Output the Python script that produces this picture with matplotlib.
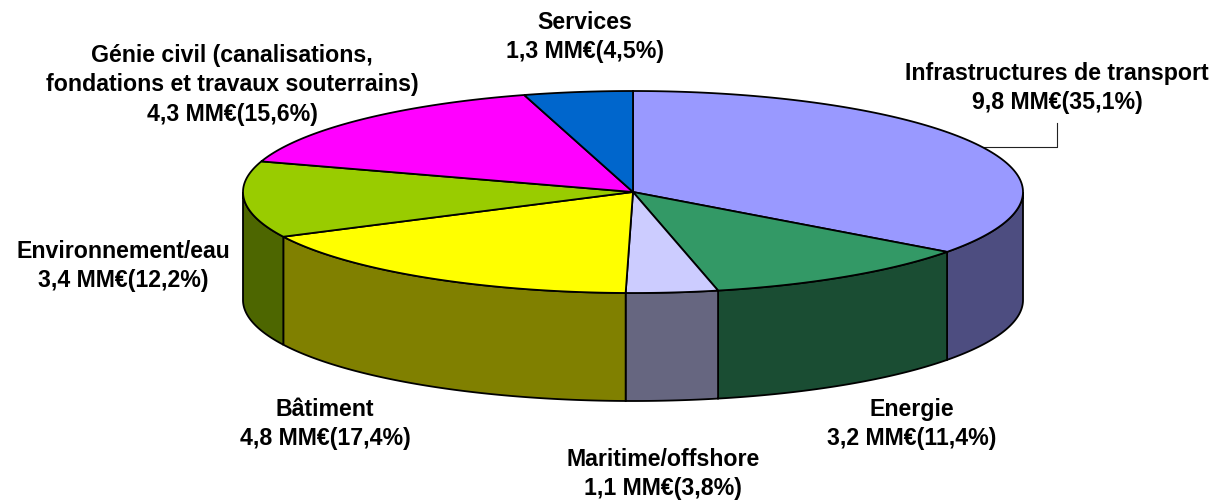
import numpy as np
import matplotlib
matplotlib.use("Agg")
import matplotlib.pyplot as plt
from matplotlib.patches import Polygon

plt.rcParams['font.family'] = ['Liberation Sans', 'DejaVu Sans']

# Slices, clockwise from 12 o'clock
categories = ["Infrastructures de transport", "Energie", "Maritime/offshore", "Bâtiment",
              "Environnement/eau", "Génie civil", "Services"]
shares = [35.1, 11.4, 3.8, 17.4, 12.2, 15.6, 4.5]
top_colors = ["#9999FF", "#339966", "#CCCCFF", "#FFFF00", "#99CC00", "#FF00FF", "#0066CC"]
side_colors = ["#4D4D80", "#1A4D33", "#666680", "#808000", "#4D6600", "#800080", "#003366"]

# Pie geometry in pixels
cx, cy = 633, 192
rx, ry = 390, 101
depth = 108

fig = plt.figure(figsize=(12.18, 5.04), dpi=100)
ax = fig.add_axes([0, 0, 1, 1])
ax.set_xlim(0, 1218)
ax.set_ylim(504, 0)
ax.axis("off")


def ell(theta):
    # theta measured clockwise from top, in radians
    return cx + rx * np.sin(theta), cy - ry * np.cos(theta)


edges = np.radians(np.concatenate([[0], np.cumsum(shares)]) / sum(shares) * 360)

# Side walls first, only the front half (theta 90..270 deg) shows
for i in range(len(shares)):
    a = max(edges[i], np.pi / 2)
    b = min(edges[i + 1], 3 * np.pi / 2)
    if b <= a:
        continue
    t = np.linspace(a, b, 80)
    x, y = ell(t)
    pts = np.vstack([np.column_stack([x, y]), np.column_stack([x[::-1], y[::-1] + depth])])
    ax.add_patch(Polygon(pts, closed=True, fc=side_colors[i], ec="black", lw=1.3, zorder=2))

# Top faces
for i in range(len(shares)):
    t = np.linspace(edges[i], edges[i + 1], 120)
    x, y = ell(t)
    pts = np.vstack([[cx, cy], np.column_stack([x, y])])
    ax.add_patch(Polygon(pts, closed=True, fc=top_colors[i], ec="black", lw=1.3, zorder=3))

# Leader line for the first slice
ax.plot([980, 1057, 1057], [147, 147, 123], color="#222222", lw=0.8, zorder=1)

label_kw = dict(ha="center", va="center", fontsize=16.7, fontweight="bold", color="black",
                linespacing=1.36)
ax.text(585, 37, "Services\n1,3 MM€(4,5%)", **label_kw)
ax.text(1057, 88, "Infrastructures de transport\n9,8 MM€(35,1%)", **label_kw)
ax.text(232, 85, "Génie civil (canalisations,\nfondations et travaux souterrains)\n4,3 MM€(15,6%)", **label_kw)
ax.text(123, 266, "Environnement/eau\n3,4 MM€(12,2%)", **label_kw)
ax.text(325, 424, "Bâtiment\n4,8 MM€(17,4%)", **label_kw)
ax.text(912, 424, "Energie\n3,2 MM€(11,4%)", **label_kw)
ax.text(663, 474, "Maritime/offshore\n1,1 MM€(3,8%)", **label_kw)

fig.savefig("out.png", dpi=100, facecolor="white")
